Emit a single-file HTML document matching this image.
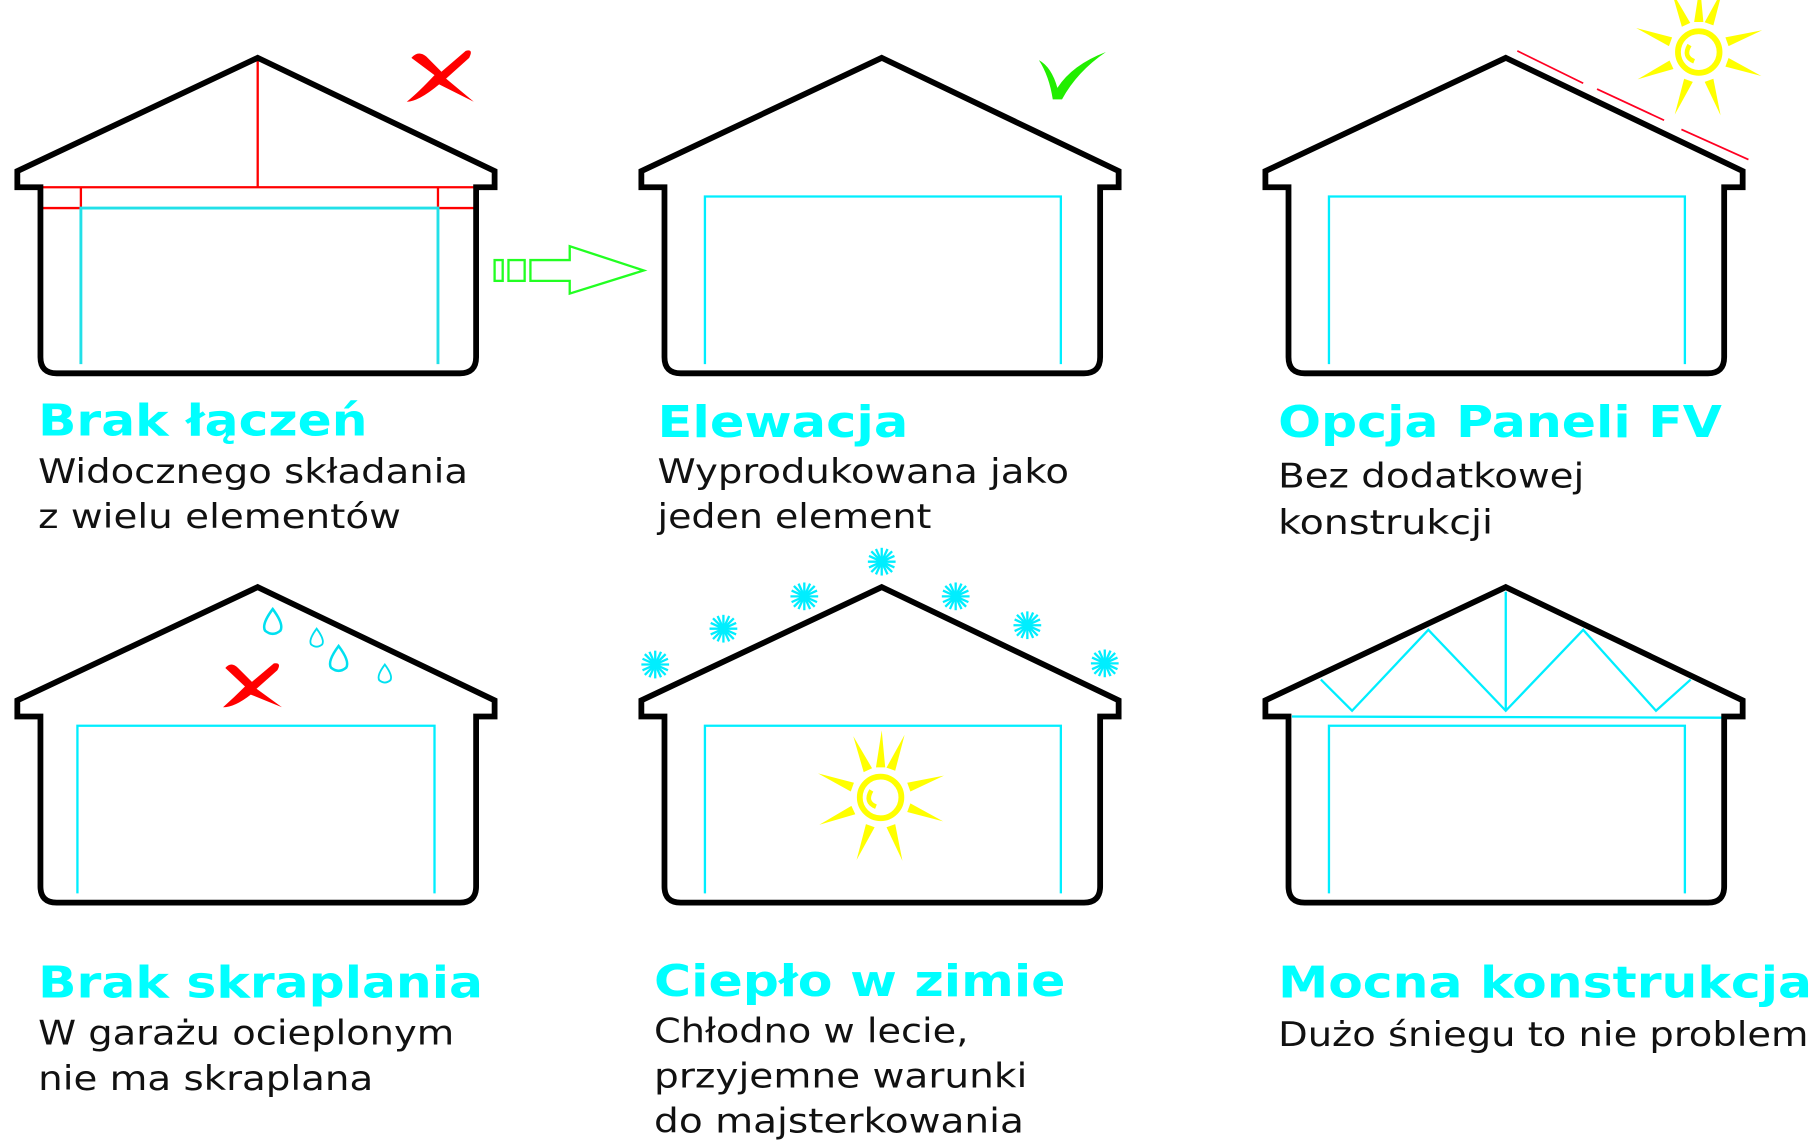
<!DOCTYPE html>
<html><head><meta charset="utf-8"><style>
html,body{margin:0;padding:0;background:#fff;width:1812px;height:1143px;overflow:hidden}
svg{display:block}
.h{font-family:"DejaVu Sans","Liberation Sans",sans-serif;font-weight:bold;fill:#00ffff;font-size:38px}
.b{font-family:"DejaVu Sans","Liberation Sans",sans-serif;fill:#111;font-size:29px}
</style></head><body>
<svg width="1812" height="1143" viewBox="0 0 1568 989" xmlns="http://www.w3.org/2000/svg">
<defs>
<path id="house" d="M223,50 L428,148 L428,162 L412,162 L412,309 Q412,323 398,323 L49,323 Q35,323 35,309 L35,162 L15,162 L15,148 Z" fill="none" stroke="#000" stroke-width="5" stroke-linejoin="miter"/>
<g id="sun" fill="#ffff00">
<circle cx="0" cy="0" r="18" fill="none" stroke="#ffff00" stroke-width="5"/>
<path d="M-8,-6 Q-14,4 -4,8" fill="none" stroke="#ffff00" stroke-width="4"/>
<g id="ray"><path d="M-4,-26 L4,-26 L1,-58 Z"/></g>
<use href="#ray" transform="rotate(-25)"/><use href="#ray" transform="rotate(20)"/>
<use href="#ray" transform="rotate(70)"/><use href="#ray" transform="rotate(110)"/>
<use href="#ray" transform="rotate(160)"/><use href="#ray" transform="rotate(200)"/>
<use href="#ray" transform="rotate(245)"/><use href="#ray" transform="rotate(290)"/>
</g>
<g id="flake" stroke="#00eeff" stroke-width="2">
<line x1="-12" y1="0" x2="12" y2="0"/><line x1="0" y1="-12" x2="0" y2="12"/>
<line x1="-9" y1="-9" x2="9" y2="9"/><line x1="-9" y1="9" x2="9" y2="-9"/>
<line x1="-5" y1="-11" x2="5" y2="11"/><line x1="-11" y1="-5" x2="11" y2="5"/>
<line x1="-5" y1="11" x2="5" y2="-11"/><line x1="-11" y1="5" x2="11" y2="-5"/>
</g>
<path id="drop" d="M0,-10 Q-9,2 -6,7 Q0,12 6,7 Q9,2 0,-10 Z" fill="none" stroke="#00e0f0" stroke-width="2"/>
</defs>

<g stroke="#ff0000" stroke-width="2" fill="none">
<line x1="35" y1="162" x2="412" y2="162"/><line x1="223" y1="50" x2="223" y2="162"/>
<line x1="35" y1="180" x2="70" y2="180"/><line x1="379" y1="180" x2="412" y2="180"/>
<line x1="70" y1="162" x2="70" y2="180"/><line x1="379" y1="162" x2="379" y2="180"/>
</g>
<path d="M70,315 L70,180 L379,180 L379,315" fill="none" stroke="#22e0e8" stroke-width="2.5"/>
<use href="#house"/>
<path d="M356,50 Q362,43 369,49 L382,62 L403,44 Q410,42 406,50 L386,68 L410,88 L380,73 Q362,88 352,88 Q362,80 376,65 Z" fill="#ff0000"/>

<g fill="none" stroke="#22ff22" stroke-width="2">
<rect x="428" y="225" width="7" height="18"/><rect x="440" y="225" width="14" height="18"/>
<path d="M459,225 L493,225 L493,213 L557,234 L493,254 L493,243 L459,243 Z"/>
</g>

<g transform="translate(540,0)"><use href="#house"/></g>
<path d="M610,315 L610,170 L918,170 L918,315" fill="none" stroke="#00eeff" stroke-width="2"/>
<path d="M899,52 Q910,58 915,76 Q928,56 957,45 Q932,62 919,86 L911,86 Q908,66 899,52 Z" fill="#22ee00"/>

<g transform="translate(1080,0)"><use href="#house"/></g>
<path d="M1150,315 L1150,170 L1458,170 L1458,315" fill="none" stroke="#00eeff" stroke-width="2"/>
<g stroke="#ff0022" stroke-width="1.5">
<line x1="1313" y1="44" x2="1370" y2="72"/><line x1="1382" y1="77" x2="1440" y2="104"/><line x1="1455" y1="112" x2="1513" y2="138"/>
</g>
<use href="#sun" transform="translate(1470,45)"/>

<g transform="translate(0,458)"><use href="#house"/></g>
<path d="M67,773 L67,628 L376,628 L376,773" fill="none" stroke="#00eeff" stroke-width="2"/>
<use href="#drop" transform="translate(236,538) scale(1.1)"/><use href="#drop" transform="translate(274,552) scale(0.8)"/>
<use href="#drop" transform="translate(293,570) scale(1.1)"/><use href="#drop" transform="translate(333,583) scale(0.8)"/>
<path d="M195,578 Q200,572 206,578 L218,590 L237,574 Q244,573 240,580 L222,596 L244,612 L217,601 Q203,612 193,612 Q203,603 212,594 Z" fill="#ff0000"/>

<g transform="translate(540,458)"><use href="#house"/></g>
<path d="M610,773 L610,628 L918,628 L918,773" fill="none" stroke="#00eeff" stroke-width="2"/>
<use href="#sun" transform="translate(762,690)"/>
<use href="#flake" transform="translate(567,575)"/><use href="#flake" transform="translate(626,544)"/>
<use href="#flake" transform="translate(696,516)"/><use href="#flake" transform="translate(763,486)"/>
<use href="#flake" transform="translate(827,516)"/><use href="#flake" transform="translate(889,541)"/>
<use href="#flake" transform="translate(956,574)"/>

<g fill="none" stroke="#00eeff" stroke-width="2">
<path d="M1150,773 L1150,628 L1458,628 L1458,773"/>
<line x1="1118" y1="620" x2="1490" y2="621"/>
<path d="M1143,588 L1170,615 L1236,545 L1303,615 L1370,545 L1433,615 L1463,588"/>
<line x1="1303" y1="512" x2="1303" y2="615"/>
</g>
<g transform="translate(1080,458)"><use href="#house"/></g>

<text class="h" x="33" y="377" textLength="285" lengthAdjust="spacingAndGlyphs">Brak łączeń</text>
<text class="b" x="33" y="418" textLength="372" lengthAdjust="spacingAndGlyphs">Widocznego składania</text>
<text class="b" x="33" y="457" textLength="314" lengthAdjust="spacingAndGlyphs">z wielu elementów</text>

<text class="h" x="569" y="378" textLength="217" lengthAdjust="spacingAndGlyphs">Elewacja</text>
<text class="b" x="569" y="418" textLength="356" lengthAdjust="spacingAndGlyphs">Wyprodukowana jako</text>
<text class="b" x="569" y="457" textLength="237" lengthAdjust="spacingAndGlyphs">jeden element</text>

<text class="h" x="1106" y="378" textLength="384" lengthAdjust="spacingAndGlyphs">Opcja Paneli FV</text>
<text class="b" x="1106" y="422" textLength="265" lengthAdjust="spacingAndGlyphs">Bez dodatkowej</text>
<text class="b" x="1106" y="462" textLength="186" lengthAdjust="spacingAndGlyphs">konstrukcji</text>

<text class="h" x="33" y="863" textLength="385" lengthAdjust="spacingAndGlyphs">Brak skraplania</text>
<text class="b" x="33" y="904" textLength="360" lengthAdjust="spacingAndGlyphs">W garażu ocieplonym</text>
<text class="b" x="33" y="943" textLength="290" lengthAdjust="spacingAndGlyphs">nie ma skraplana</text>

<text class="h" x="566" y="862" textLength="356" lengthAdjust="spacingAndGlyphs">Ciepło w zimie</text>
<text class="b" x="566" y="902" textLength="272" lengthAdjust="spacingAndGlyphs">Chłodno w lecie,</text>
<text class="b" x="566" y="941" textLength="323" lengthAdjust="spacingAndGlyphs">przyjemne warunki</text>
<text class="b" x="566" y="980" textLength="320" lengthAdjust="spacingAndGlyphs">do majsterkowania</text>

<text class="h" x="1106" y="863" textLength="462" lengthAdjust="spacingAndGlyphs">Mocna konstrukcja</text>
<text class="b" x="1106" y="905" textLength="459" lengthAdjust="spacingAndGlyphs">Dużo śniegu to nie problem</text>
</svg>
</body></html>
